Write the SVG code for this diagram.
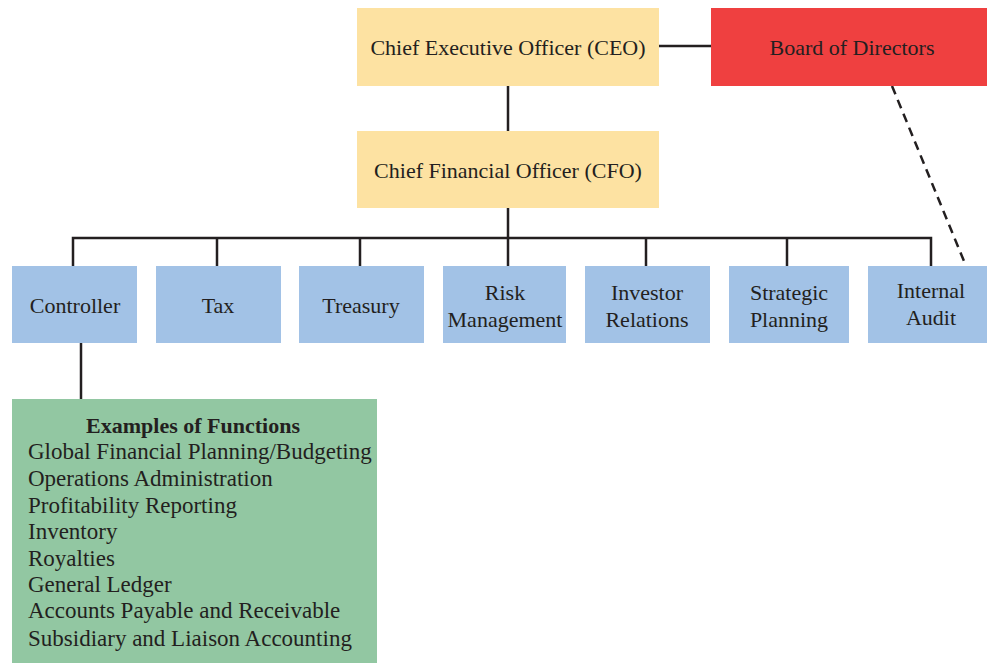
<svg xmlns="http://www.w3.org/2000/svg" width="987" height="663" viewBox="0 0 987 663">
<style>
text{font-family:"Liberation Serif","DejaVu Serif",serif;font-size:22px;fill:#231F20}
.c{text-anchor:middle}
.l{font-size:23px}
.exec{fill:#FDE2A2}
.board{fill:#EF4040}
.dept{fill:#A2C2E6}
.func{fill:#92C7A2}
.ln{stroke:#231F20;stroke-width:2.5;fill:none}
.dash{stroke:#231F20;stroke-width:2.5;fill:none;stroke-dasharray:9 6}
</style>
<rect width="987" height="663" fill="#fff"/>
<g id="connectors">
<line class="ln" x1="659" y1="46" x2="711" y2="46"/>
<line class="ln" x1="508" y1="86" x2="508" y2="131"/>
<line class="ln" x1="508" y1="208" x2="508" y2="238"/>
<polyline class="ln" points="73,266 73,238 931,238 931,266"/>
<line class="ln" x1="217" y1="238" x2="217" y2="266"/>
<line class="ln" x1="360" y1="238" x2="360" y2="266"/>
<line class="ln" x1="508" y1="238" x2="508" y2="266"/>
<line class="ln" x1="646" y1="238" x2="646" y2="266"/>
<line class="ln" x1="787" y1="238" x2="787" y2="266"/>
<line class="ln" x1="81" y1="343" x2="81" y2="399"/>
<line class="dash" x1="892" y1="86" x2="966" y2="266"/>
</g>
<g id="ceo"><rect class="exec" x="357" y="8" width="302" height="78"/><text class="c" x="508" y="55">Chief Executive Officer (CEO)</text></g>
<g id="board"><rect class="board" x="711" y="8" width="276" height="78"/><text class="c" x="852" y="55">Board of Directors</text></g>
<g id="cfo"><rect class="exec" x="357" y="131" width="302" height="77"/><text class="c" x="508" y="178">Chief Financial Officer (CFO)</text></g>
<g id="controller"><rect class="dept" x="12" y="266" width="125" height="77"/><text class="c" x="75" y="313">Controller</text></g>
<g id="tax"><rect class="dept" x="156" y="266" width="125" height="77"/><text class="c" x="218" y="313">Tax</text></g>
<g id="treasury"><rect class="dept" x="299" y="266" width="125" height="77"/><text class="c" x="361" y="313">Treasury</text></g>
<g id="risk"><rect class="dept" x="443" y="266" width="123" height="77"/><text class="c" x="505" y="300">Risk</text><text class="c" x="505" y="327">Management</text></g>
<g id="investor"><rect class="dept" x="585" y="266" width="125" height="77"/><text class="c" x="647" y="300">Investor</text><text class="c" x="647" y="327">Relations</text></g>
<g id="strategic"><rect class="dept" x="729" y="266" width="120" height="77"/><text class="c" x="789" y="300">Strategic</text><text class="c" x="789" y="327">Planning</text></g>
<g id="audit"><rect class="dept" x="868" y="266" width="119" height="77"/><text class="c" x="931" y="298">Internal</text><text class="c" x="931" y="325">Audit</text></g>
<g id="functions"><rect class="func" x="12" y="399" width="365" height="264"/>
<text class="c" x="193" y="433" font-weight="bold" font-size="22.3">Examples of Functions</text>
<text class="l" x="28" y="459">Global Financial Planning/Budgeting</text>
<text class="l" x="28" y="486">Operations Administration</text>
<text class="l" x="28" y="513">Profitability Reporting</text>
<text class="l" x="28" y="539">Inventory</text>
<text class="l" x="28" y="566">Royalties</text>
<text class="l" x="28" y="592">General Ledger</text>
<text class="l" x="28" y="618">Accounts Payable and Receivable</text>
<text class="l" x="28" y="646">Subsidiary and Liaison Accounting</text>
</g>
</svg>
